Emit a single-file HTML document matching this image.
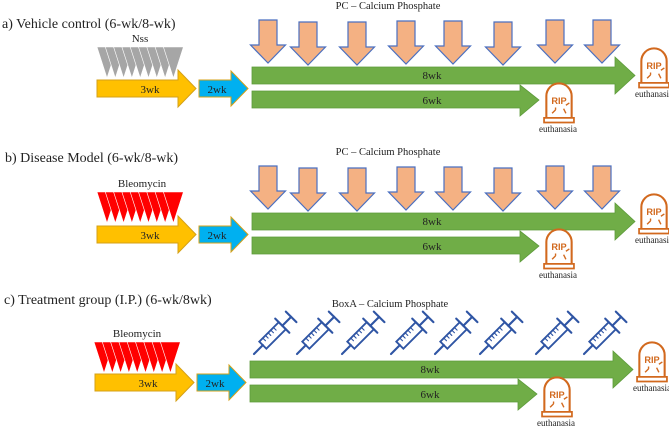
<!DOCTYPE html><html><head><style>body{margin:0;background:#fff}svg{display:block}text{font-family:"Liberation Serif",serif;fill:#222}</style></head><body>
<svg width="669" height="426" viewBox="0 0 669 426" xmlns="http://www.w3.org/2000/svg">
<defs>
<g id="pa"><path d="M-9,20 H9 V45 H17.5 L0,63 L-17.5,45 H-9 Z" fill="#f4b183" stroke="#4a6fc0" stroke-width="1.2"/></g>
<g id="tomb"><g transform="scale(1.15)" fill="none" stroke="#d2691e" stroke-width="1.8"><path d="M-11,26 V7 A11,11 0 0 1 11,7 V26"/><path d="M-13,26 H13 V30 H-13 Z" stroke-width="1.5"/><path d="M-6,22 l3,-3 M-3,19 v-2 M6,22 l-2,-4 M9,13 l-3,2" stroke-width="1.2"/><text x="0" y="14" text-anchor="middle" style="font-family:'Liberation Sans',sans-serif;font-weight:bold;font-size:8px;fill:#d2691e;stroke:none">RIP</text></g></g>
<g id="tri"><path d="M0,0 H20 L10,31 Z" stroke="#fff" stroke-width="0.6"/></g>
<g id="syr"><g transform="scale(1.25)" fill="none" stroke="#2f55a4" stroke-width="1.7" stroke-linecap="round"><g transform="rotate(-45)"><path d="M0,0 H10"/><path d="M10,-4 H32 V4 H10 Z" stroke-width="1.5"/><path d="M14,-4 v3 M17,-4 v3 M20,-4 v3 M23,-4 v3 M26,-4 v3" stroke-width="0.9"/><path d="M32,-8 V8"/><path d="M32,0 H42"/><path d="M42,-6 V6"/></g></g></g>
<g id="tl">
<path d="M97,80 H178 V70 L196,88.5 L178,107 V97 H97 Z" fill="#ffc000" stroke="#d4a017" stroke-width="1"/>
<text x="150" y="93" text-anchor="middle" font-size="11">3wk</text>
<path d="M199,80 H231 V71 L248,88.5 L231,106 V97 H199 Z" fill="#00b0f0" stroke="#d4a017" stroke-width="1"/>
<text x="217" y="93" text-anchor="middle" font-size="11">2wk</text>
<path d="M252,67 H615 V57 L635,75.5 L615,94 V84 H252 Z" fill="#70ad47" stroke="#5c9a3a" stroke-width="0.8"/>
<text x="432" y="79" text-anchor="middle" font-size="11">8wk</text>
<path d="M252,91 H520 V85 L539,100 L520,116 V108 H252 Z" fill="#70ad47" stroke="#5c9a3a" stroke-width="0.8"/>
<text x="432" y="104" text-anchor="middle" font-size="11">6wk</text>
<use href="#tomb" x="559" y="88"/><text x="558" y="132" text-anchor="middle" font-size="9">euthanasia</text>
<use href="#tomb" x="654" y="53"/><text x="654" y="97" text-anchor="middle" font-size="9">euthanasia</text>
</g>
<g id="pas"><use href="#pa" x="268"/><use href="#pa" x="308" y="2"/><use href="#pa" x="357" y="2"/><use href="#pa" x="406" y="1"/><use href="#pa" x="453" y="1"/><use href="#pa" x="503" y="2"/><use href="#pa" x="555"/><use href="#pa" x="602"/></g>
<g id="tris"><use href="#tri" x="97"/><use href="#tri" x="105.3"/><use href="#tri" x="113.6"/><use href="#tri" x="121.9"/><use href="#tri" x="130.2"/><use href="#tri" x="138.5"/><use href="#tri" x="146.8"/><use href="#tri" x="155.1"/><use href="#tri" x="163.4"/></g>
</defs>
<!-- a -->
<text x="2" y="28" font-size="14">a) Vehicle control  (6-wk/8-wk)</text>
<text x="388" y="9" text-anchor="middle" font-size="10.5">PC – Calcium Phosphate</text>
<text x="140" y="42" text-anchor="middle" font-size="11">Nss</text>
<g fill="#a6a6a6" transform="translate(0,47)"><use href="#tris"/></g>
<use href="#pas"/>
<use href="#tl"/>
<!-- b -->
<text x="5" y="162" font-size="14">b) Disease Model (6-wk/8-wk)</text>
<text x="388" y="155" text-anchor="middle" font-size="10.5">PC – Calcium Phosphate</text>
<text x="142" y="187" text-anchor="middle" font-size="11">Bleomycin</text>
<g fill="#ff0000" transform="translate(0,192)"><use href="#tris"/></g>
<g transform="translate(0,146)"><use href="#pas"/><use href="#tl"/></g>
<!-- c -->
<text x="4" y="304" font-size="14">c) Treatment group  (I.P.) (6-wk/8wk)</text>
<text x="390" y="307" text-anchor="middle" font-size="10.5">BoxA  – Calcium Phosphate</text>
<text x="137" y="337" text-anchor="middle" font-size="11">Bleomycin</text>
<g fill="#ff0000" transform="translate(-3,342)"><use href="#tris"/></g>
<use href="#syr" x="254" y="354"/><use href="#syr" x="297" y="354"/><use href="#syr" x="342" y="354"/><use href="#syr" x="391" y="354"/><use href="#syr" x="435" y="354"/><use href="#syr" x="480" y="354"/><use href="#syr" x="536" y="354"/><use href="#syr" x="584" y="354"/>
<g transform="translate(-2,294)"><use href="#tl"/></g>
</svg>
</body></html>
